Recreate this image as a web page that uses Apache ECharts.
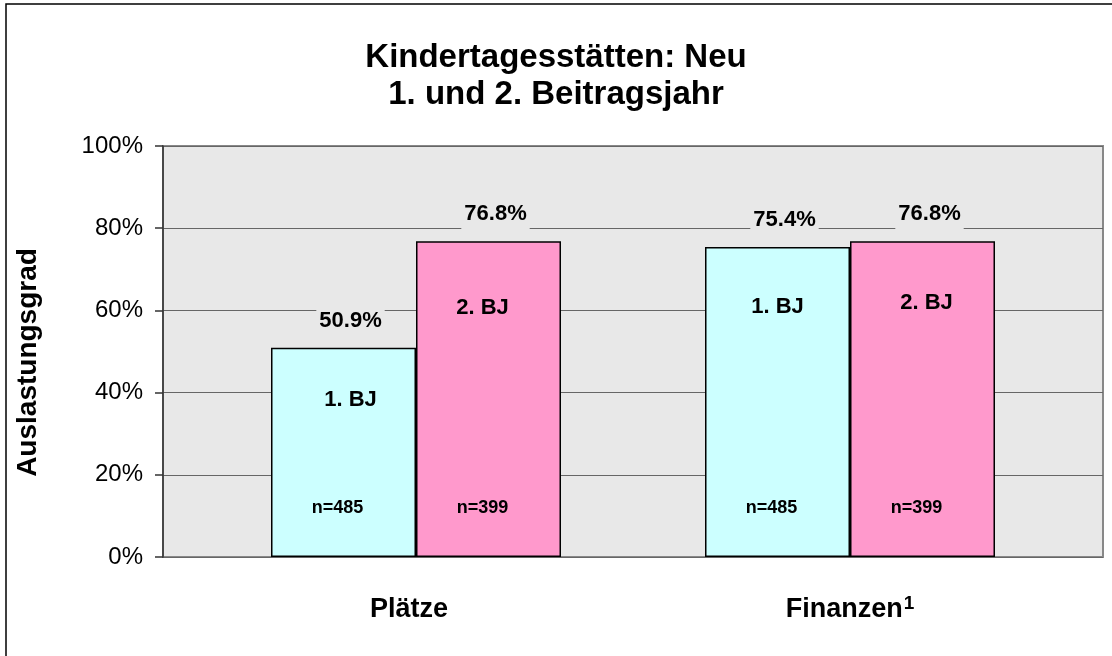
<!DOCTYPE html>
<html>
<head>
    <meta charset="utf-8">
    <title>Kindertagesstätten: Neu</title>
    <script src="https://cdn.jsdelivr.net/npm/echarts@6/dist/echarts.min.js"></script>
    <style>
        html, body { margin: 0; padding: 0; background: #fff; }
        #chart { width: 1112px; height: 656px; }
    </style>
</head>
<body>
<div id="chart"></div>
<script>
    // Daten
    const categories = ['Plätze', 'Finanzen¹'];
    const seriesNames = ['1. BJ', '2. BJ'];
    const bj1 = [50.9, 75.4];
    const bj2 = [76.8, 76.8];
    const n1 = [485, 485];
    const n2 = [399, 399];
    const yTicks = [0, 20, 40, 60, 80, 100];

    const font = 'Liberation Sans, Arial, sans-serif';

    // Abstand des "BJ"-Textes von der Balkenoberkante (Textfelder im Original frei platziert)
    const bjTop = [[41, 56], [49, 51]];
    const bjShift = [[7, -6], [0, 4]];

    const chart = echarts.init(document.getElementById('chart'));

    function valueSeries(name, values) {
        return {
            name: name,
            type: 'bar',
            xAxisIndex: 1,
            yAxisIndex: 1,
            data: values,
            barWidth: 145,
            barGap: '0%',
            itemStyle: {
                color: name === '1. BJ' ? '#CCFFFF' : '#FF99CC',
                borderColor: '#000',
                borderWidth: 1.5
            },
            label: {
                show: true,
                position: 'top',
                distance: 8,
                offset: [7, 0],
                formatter: p => p.value.toFixed(1) + '%',
                fontFamily: font,
                fontWeight: 'bold',
                fontSize: 22,
                lineHeight: 22,
                color: '#000',
                backgroundColor: '#E8E8E8',
                padding: [6, 3, 8, 3]
            },
            silent: true
        };
    }

    function bjSeries(idx, values) {
        return {
            type: 'bar',
            xAxisIndex: 2,
            yAxisIndex: 1,
            barWidth: 145,
            barGap: '0%',
            itemStyle: { color: 'transparent' },
            data: values.map((v, i) => ({
                value: v,
                label: { distance: bjTop[i][idx], offset: [bjShift[i][idx], 0] }
            })),
            label: {
                show: true,
                position: 'insideTop',
                formatter: seriesNames[idx],
                fontFamily: font,
                fontWeight: 'bold',
                fontSize: 22,
                lineHeight: 22,
                color: '#000'
            },
            silent: true,
            z: 3
        };
    }

    function nSeries(values, heights) {
        return {
            type: 'bar',
            xAxisIndex: 3,
            yAxisIndex: 1,
            barWidth: 145,
            barGap: '0%',
            itemStyle: { color: 'transparent' },
            data: heights,
            label: {
                show: true,
                position: 'insideBottom',
                distance: 40,
                offset: [-6, 0],
                formatter: p => 'n=' + values[p.dataIndex],
                fontFamily: font,
                fontWeight: 'bold',
                fontSize: 18,
                lineHeight: 18,
                color: '#000'
            },
            silent: true,
            z: 3
        };
    }

    const option = {
        backgroundColor: '#fff',
        animation: false,
        title: {
            text: 'Kindertagesstätten: Neu\n1. und 2. Beitragsjahr',
            left: 'center',
            top: 40,
            padding: 0,
            textStyle: {
                fontFamily: font,
                fontWeight: 'bold',
                fontSize: 33,
                lineHeight: 36.5,
                color: '#000'
            }
        },
        graphic: [{
            type: 'rect',
            shape: { x: 6, y: 4, width: 1130, height: 680 },
            style: { fill: 'none', stroke: '#000', lineWidth: 1.5 },
            silent: true,
            z: 10
        }],
        grid: [
            { left: 163, right: 9, top: 146, bottom: 99, show: true, backgroundColor: '#E8E8E8', borderColor: '#888', borderWidth: 2 },
            { left: 199, right: 45, top: 146, bottom: 99 }
        ],
        xAxis: [
            { gridIndex: 0, type: 'category', data: categories, show: false },
            {
                gridIndex: 1,
                type: 'category',
                data: categories.map((c, i) => i === 0 ? { value: c, textStyle: { padding: [0, 14, 0, 0] } } : c),
                axisLine: { show: false },
                axisTick: { show: false },
                axisLabel: {
                    margin: 38,
                    formatter: v => '{a|' + v.replace('¹', '') + '}' + (v.indexOf('¹') >= 0 ? '{s|1}' : ''),
                    rich: {
                        a: { fontFamily: font, fontWeight: 'bold', fontSize: 27, lineHeight: 30, color: '#000' },
                        s: { fontFamily: font, fontWeight: 'bold', fontSize: 19, lineHeight: 17, color: '#000', padding: [0, 0, 13, 1] }
                    }
                }
            },
            { gridIndex: 1, type: 'category', data: categories, show: false },
            { gridIndex: 1, type: 'category', data: categories, show: false }
        ],
        yAxis: [
            {
                gridIndex: 0,
                type: 'value',
                min: yTicks[0],
                max: yTicks[yTicks.length - 1],
                interval: 20,
                name: 'Auslastungsgrad',
                nameLocation: 'middle',
                nameRotate: 90,
                nameGap: 121,
                nameTextStyle: {
                    fontFamily: font,
                    fontWeight: 'bold',
                    fontSize: 28,
                    color: '#000',
                    padding: [0, 22, 0, 0]
                },
                axisLine: { show: true, lineStyle: { color: '#333', width: 1.5 } },
                axisTick: { show: true, length: 8, lineStyle: { color: '#333', width: 1.5 } },
                axisLabel: {
                    margin: 20,
                    formatter: '{value}%',
                    fontFamily: font,
                    fontSize: 24,
                    color: '#000'
                },
                splitLine: { show: true, lineStyle: { color: '#666', width: 1 } }
            },
            { gridIndex: 1, type: 'value', min: 0, max: 100, show: false, splitLine: { show: false } }
        ],
        series: [
            valueSeries('1. BJ', bj1),
            valueSeries('2. BJ', bj2),
            bjSeries(0, bj1),
            bjSeries(1, bj2),
            nSeries(n1, bj1),
            nSeries(n2, bj2)
        ]
    };

    chart.setOption(option);
</script>
</body>
</html>
